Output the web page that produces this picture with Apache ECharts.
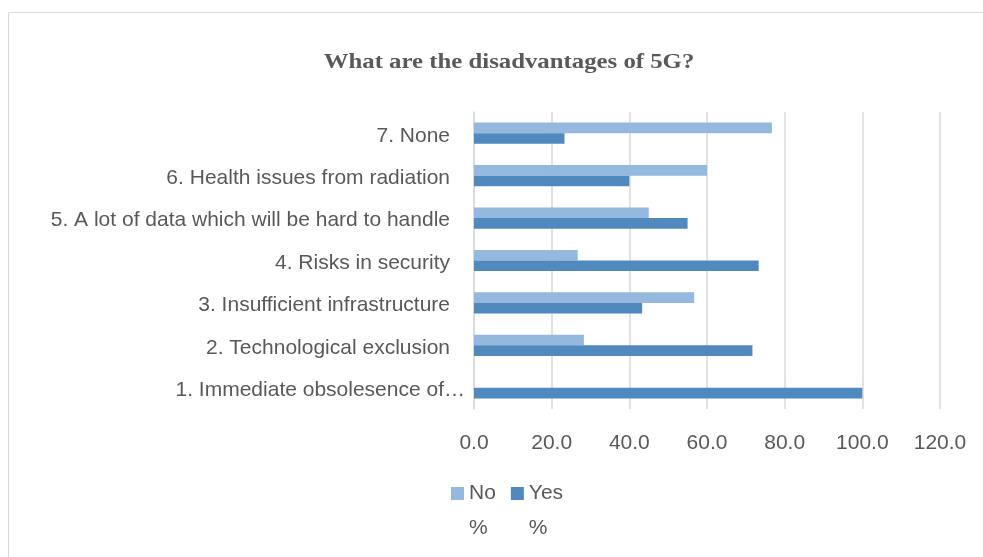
<!DOCTYPE html>
<html><head><meta charset="utf-8">
<script src="https://cdn.jsdelivr.net/npm/echarts@6/dist/echarts.min.js"></script>
<style>html,body{margin:0;padding:0;background:#fff}#c{width:983px;height:557px}</style>
</head><body><div id="c"></div>
<script>
var categories = ['1. Immediate obsolesence of…','2. Technological exclusion','3. Insufficient infrastructure','4. Risks in security','5. A lot of data which will be hard to handle','6. Health issues from radiation','7. None'];
var yesValues = [100.0, 71.7, 43.3, 73.3, 55.0, 40.0, 23.3];
var noValues = [0.0, 28.3, 56.7, 26.7, 45.0, 60.0, 76.7];
var seriesNames = ['No\n%', 'Yes\n%'];
var titleText = 'What are the disadvantages of 5G?';

var chart = echarts.init(document.getElementById('c'), null, {renderer:'canvas'});
var labelFont = 'Liberation Sans';
var iconPath = 'path://M0,0L13,0L13,13L0,13Z M0,48L0.01,48';
chart.setOption({
  backgroundColor: '#fff',
  animation: false,
  graphic: [
    {type:'rect', shape:{x:8.5,y:12.5,width:1000,height:600}, style:{fill:'none',stroke:'#d9d9d9',lineWidth:1}, silent:true},
    {type:'text', x:509, y:63, scaleX:1.18, silent:true,
     style:{text:titleText, fontFamily:'Liberation Serif', fontWeight:'bold', fontSize:21, fill:'#595959', align:'center', verticalAlign:'middle', textAlign:'center', textVerticalAlign:'middle'}}
  ],
  grid: {left: 474, right: 43, top: 112, bottom: 148},
  legend: {
    data: seriesNames, left: 451, top: 476, padding: 0, itemWidth: 13, itemHeight: 48, itemGap: 15,
    icon: iconPath,
    textStyle: {fontFamily: labelFont, fontSize: 21, color:'#595959', lineHeight: 35}
  },
  xAxis: {type:'value', min:0, max:120, interval:20,
    axisLabel:{formatter:function(v){return v.toFixed(1);}, fontFamily:labelFont, fontSize:21, color:'#595959', margin:24},
    splitLine:{lineStyle:{color:'#d9d9d9', width:1.5}}, axisLine:{show:false}, axisTick:{show:false}},
  yAxis: {type:'category', data: categories,
    axisLabel:{fontFamily:labelFont, fontSize:21, color:'#595959', margin:9,
      formatter:function(v, i){ return i === 0 ? '{e|' + v + '}' : '{n|' + v + '}'; },
      rich:{e:{fontFamily:labelFont, fontSize:21, color:'#595959', padding:[5,0,0,0]}, n:{fontFamily:labelFont, fontSize:21, color:'#595959', padding:[5,15,0,0]}}},
    axisLine:{show:true, lineStyle:{color:'#d9d9d9', width:1.5}}, axisTick:{show:false}},
  series: [
    {name: seriesNames[0], type:'bar', data: noValues, barWidth: 10.6, barGap:'0%', itemStyle:{color:'#95b8de'}},
    {name: seriesNames[1], type:'bar', data: yesValues, barWidth: 10.6, barGap:'0%', itemStyle:{color:'#4f89bd'}}
  ]
});
</script></body></html>
